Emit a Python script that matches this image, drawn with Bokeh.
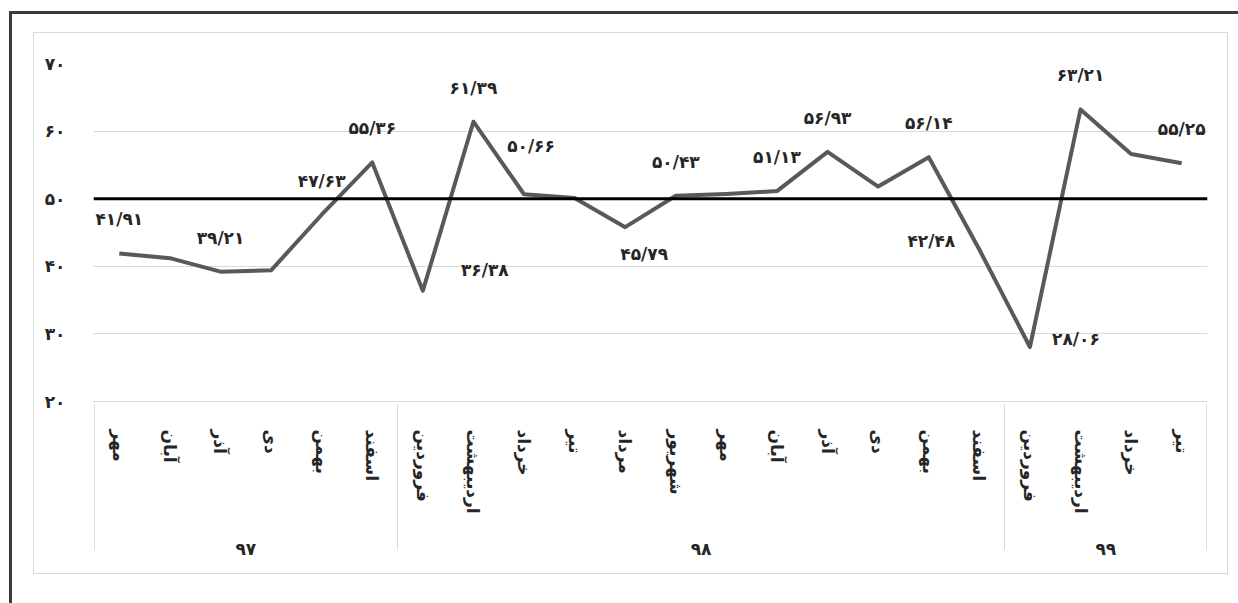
from bokeh.plotting import figure
from bokeh.models import FactorRange, ColumnDataSource, LabelSet, Span, FixedTicker
from bokeh.embed import file_html
from bokeh.resources import INLINE
from bokeh.core.properties import value

# ---------------- data ----------------
years = ["۹۷", "۹۸", "۹۹"]
months_97 = ["مهر", "آبان", "آذر", "دی", "بهمن", "اسفند"]
months_98 = ["فروردین", "اردیبهشت", "خرداد", "تیر", "مرداد", "شهریور",
             "مهر", "آبان", "آذر", "دی", "بهمن", "اسفند"]
months_99 = ["فروردین", "اردیبهشت", "خرداد", "تیر"]

values_97 = [41.91, 41.2, 39.21, 39.4, 47.63, 55.36]
values_98 = [36.38, 61.39, 50.66, 50.1, 45.79, 50.43,
             50.7, 51.13, 56.93, 51.8, 56.14, 42.48]
values_99 = [28.06, 63.21, 56.6, 55.25]

labeled_97 = [True, False, True, False, True, True]
labeled_98 = [True, True, True, False, True, True,
              False, True, True, False, True, True]
labeled_99 = [True, True, False, True]

threshold = 50
y_ticks = [20, 30, 40, 50, 60, 70]

# ---------------- helpers ----------------
FA = str.maketrans("0123456789.", "۰۱۲۳۴۵۶۷۸۹/")


def fa(v, fmt="{:.2f}"):
    return fmt.format(v).translate(FA)


month_groups = [months_97, months_98, months_99]
value_groups = [values_97, values_98, values_99]
label_groups = [labeled_97, labeled_98, labeled_99]

factors, vals, flags = [], [], []
for yr, ms, vs, fl in zip(years, month_groups, value_groups, label_groups):
    for m, v, f in zip(ms, vs, fl):
        factors.append((yr, m))
        vals.append(v)
        flags.append(f)

# label placement (screen px offsets), default: above the point
label_offsets = {6: (62, 21), 8: (7, 48), 10: (19, -27), 17: (-48, 9), 18: (46, 8)}
default_offset = (0, 34)

lx, ly, lt, ldx, ldy = [], [], [], [], []
for i, (fct, v, f) in enumerate(zip(factors, vals, flags)):
    if not f:
        continue
    dx, dy = label_offsets.get(i, default_offset)
    lx.append(fct)
    ly.append(v)
    lt.append(fa(v))
    ldx.append(dx)
    ldy.append(dy)

line_src = ColumnDataSource(dict(x=factors, y=vals))
lab_src = ColumnDataSource(dict(x=lx, y=ly, text=lt, dx=ldx, dy=ldy))

FONT = "DejaVu Sans"
TXT = "#262626"
GRID = "#d9d9d9"

# empty edge groups only provide the outer separator lines of the axis box
edge_left = [(" ", " ")]
edge_right = [("  ", " ")]
x_range = FactorRange(*(edge_left + factors + edge_right),
                      group_padding=0, factor_padding=0,
                      range_padding=-0.99, range_padding_units="absolute")

W, H = 1195, 542
p = figure(
    width=W, height=H,
    x_range=x_range,
    y_range=(20, 70),
    output_backend="svg", toolbar_location=None,
    min_border_left=59, min_border_right=22,
    min_border_top=30, min_border_bottom=174,
    background_fill_color="white", border_fill_color="white",
)
p.outline_line_color = None
p.styles = {
    "margin-left": "33px",
    "margin-top": "32px",
    "border": "1px solid #d9d9d9",
    "box-shadow": "3px 6px 0 24px white, 3px 6px 0 27px #3a3a3a",
}

# y axis
p.yaxis.ticker = FixedTicker(ticks=y_ticks)
p.yaxis.major_label_overrides = {t: fa(t, "{:d}") for t in y_ticks}
p.yaxis.axis_line_color = None
p.yaxis.major_tick_line_color = None
p.yaxis.minor_tick_line_color = None
p.yaxis.major_label_standoff = 22
p.yaxis.major_label_text_font = FONT
p.yaxis.major_label_text_font_style = "bold"
p.yaxis.major_label_text_font_size = "17px"
p.yaxis.major_label_text_color = TXT

p.ygrid.ticker = FixedTicker(ticks=y_ticks)
p.ygrid.grid_line_color = GRID
p.xgrid.grid_line_color = None

# x axis (two levels)
xa = p.xaxis[0]
xa.axis_line_color = GRID
xa.major_tick_line_color = None
xa.minor_tick_line_color = None
xa.major_label_orientation = "vertical"
xa.major_label_standoff = 22
xa.major_label_text_font = FONT
xa.major_label_text_font_style = "bold"
xa.major_label_text_font_size = "17px"
xa.major_label_text_color = TXT
xa.group_text_font = FONT
xa.group_text_font_style = "bold"
xa.group_text_font_size = "17px"
xa.group_text_color = TXT
xa.separator_line_color = GRID
xa.separator_line_width = 1

# threshold line
p.add_layout(Span(location=threshold, dimension="width",
                  line_color="black", line_width=3))

# series
p.line("x", "y", source=line_src, line_color="#595959", line_width=4,
       line_join="round")

p.add_layout(LabelSet(x="x", y="y", text="text", source=lab_src,
                      x_offset="dx", y_offset="dy",
                      text_align="center", text_baseline="middle",
                      text_font=value(FONT), text_font_style="bold",
                      text_font_size="17px", text_color=TXT))

open("out.html", "w").write(file_html(p, INLINE))
